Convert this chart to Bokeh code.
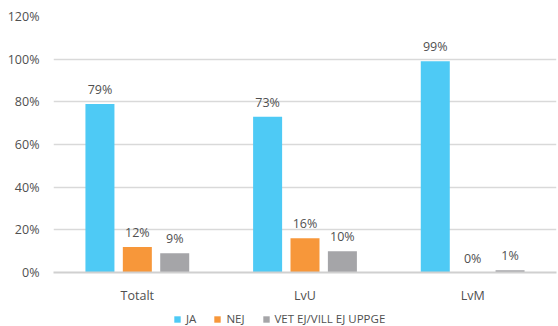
from bokeh.plotting import figure
from bokeh.layouts import column
from bokeh.models import ColumnDataSource, FactorRange, Legend, LegendItem, FixedTicker, Range1d, CustomJSTickFormatter
from bokeh.core.properties import value
from bokeh.transform import dodge
from bokeh.embed import file_html
from bokeh.resources import INLINE

categories = ["Totalt", "LvU", "LvM"]
series_names = ["JA", "NEJ", "VET EJ/VILL EJ UPPGE"]
ja = [79, 73, 99]
nej = [12, 16, 0]
vet = [9, 10, 1]
y_ticks = [0, 20, 40, 60, 80, 100, 120]
colors = ["#4ECAF5", "#F7973A", "#A5A5A8"]

FONT = "Open Sans"
TXT = "#505050"

src = ColumnDataSource(dict(
    cat=categories, ja=ja, nej=nej, vet=vet,
    ja_l=[f"{v}%" for v in ja], nej_l=[f"{v}%" for v in nej], vet_l=[f"{v}%" for v in vet],
))

p = figure(width=558, height=306, x_range=FactorRange(*categories, range_padding=0),
           y_range=Range1d(0, 120), output_backend="svg", toolbar_location=None,
           min_border_left=53, min_border_right=2, min_border_top=16, min_border_bottom=33)
p.outline_line_color = None

offsets = [-0.223, 0.0, 0.223]
cols = ["ja", "nej", "vet"]
for off, c, col in zip(offsets, cols, colors):
    p.vbar(x=dodge("cat", off, range=p.x_range), top=c, width=0.173, source=src,
           fill_color=col, line_color=None)
    p.text(x=dodge("cat", off, range=p.x_range), y=c, text=c + "_l", source=src,
           text_align="center", text_baseline="bottom", y_offset=-6,
           text_font=value(FONT), text_font_size="12.5px", text_color=TXT)

p.yaxis.ticker = FixedTicker(ticks=y_ticks)
p.yaxis.formatter = CustomJSTickFormatter(code="return tick + '%';")
p.yaxis.axis_line_color = None
p.yaxis.major_tick_line_color = None
p.yaxis.minor_tick_line_color = None
p.yaxis.major_label_text_font = FONT
p.yaxis.major_label_text_font_size = "12.5px"
p.yaxis.major_label_text_color = TXT
p.yaxis.major_label_standoff = 8

p.xaxis.axis_line_color = "#D0D0D0"
p.xaxis.axis_line_width = 2
p.xaxis.major_tick_line_color = None
p.xaxis.minor_tick_line_color = None
p.xaxis.major_label_text_font = FONT
p.xaxis.major_label_text_font_size = "12.5px"
p.xaxis.major_label_text_color = TXT
p.xaxis.major_label_standoff = 8

p.xgrid.grid_line_color = None
p.ygrid.grid_line_color = "#D9D9D9"
p.ygrid.grid_line_width = 1.5

# legend strip
lg = figure(width=558, height=20, x_range=Range1d(0, 1), y_range=Range1d(0, 1),
            output_backend="svg", toolbar_location=None, x_axis_type=None, y_axis_type=None,
            min_border=0)
lg.outline_line_color = None
lg.xgrid.grid_line_color = None
lg.ygrid.grid_line_color = None
dummies = []
for col in colors:
    dummies.append(lg.vbar(x=[0.5], top=[0], bottom=[0], width=0.0, fill_color=col, line_color=None))
legend = Legend(items=[LegendItem(label=n, renderers=[r]) for n, r in zip(series_names, dummies)],
                orientation="horizontal", location=(120, 0),
                label_text_font=FONT, label_text_font_size="11.5px", label_text_color=TXT,
                glyph_width=8, glyph_height=8, label_standoff=5, spacing=17, label_width=8,
                border_line_color=None, background_fill_alpha=0, padding=0, margin=0)
lg.add_layout(legend, "center")

layout = column(p, lg, spacing=0)
open("out.html", "w").write(file_html(layout, INLINE))
